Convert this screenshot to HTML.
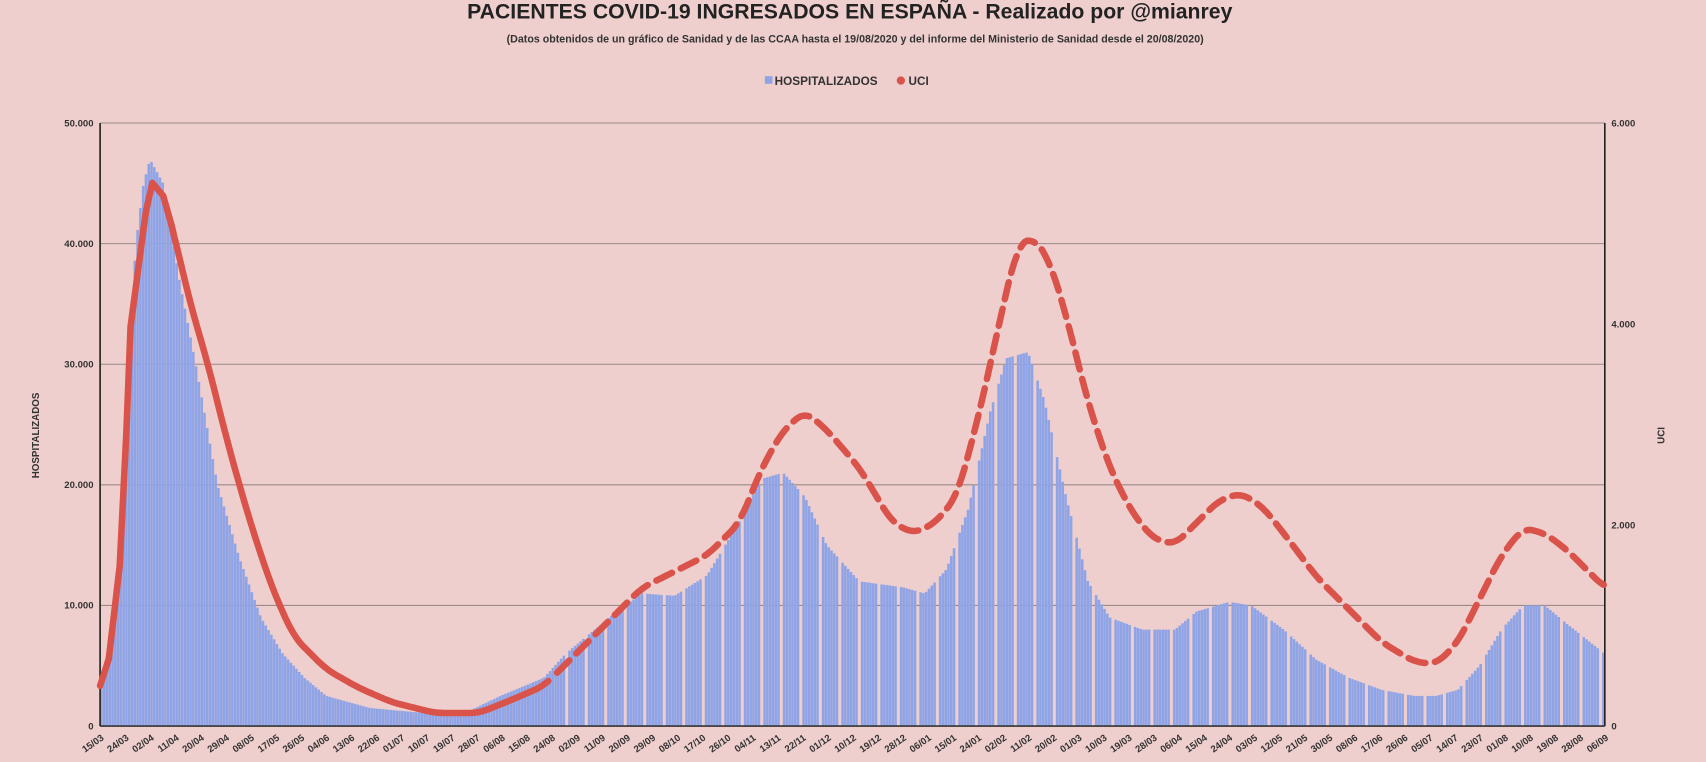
<!DOCTYPE html>
<html><head><meta charset="utf-8"><style>
html,body{margin:0;padding:0;background:#eecfcd;}
svg{display:block;font-family:"Liberation Sans",sans-serif;}
</style></head><body>
<svg id="s" width="1706" height="762" viewBox="0 0 1568 700" preserveAspectRatio="none">
<rect width="1568" height="700" fill="#eecfcd"/>
<text x="781" y="17" text-anchor="middle" font-size="19.5" font-weight="bold" fill="#222">PACIENTES COVID-19 INGRESADOS EN ESPAÑA - Realizado por @mianrey</text>
<text x="786" y="39" text-anchor="middle" font-size="9.8" font-weight="bold" fill="#333">(Datos obtenidos de un gráfico de Sanidad y de las CCAA hasta el 19/08/2020 y del informe del Ministerio de Sanidad desde el 20/08/2020)</text>
<rect x="703" y="70" width="7" height="7" fill="#8fa4e6"/>
<text x="712" y="78" font-size="10.8" font-weight="bold" fill="#333">HOSPITALIZADOS</text>
<circle cx="828" cy="74" r="3.8" fill="#d9534a"/>
<text x="835" y="78" font-size="10.8" font-weight="bold" fill="#333">UCI</text>
<text transform="translate(36,400) rotate(-90)" text-anchor="middle" font-size="9" font-weight="bold" fill="#333">HOSPITALIZADOS</text>
<text transform="translate(1530,400) rotate(-90)" text-anchor="middle" font-size="9" font-weight="bold" fill="#333">UCI</text>
<g id="g"></g>
</svg>
<script>
var g=document.getElementById('g'),h='';
var X0=92,X1=1475,Y0=667,YT=113,N=540,pd=(X1-X0)/N;
function yl(v){return Y0-(Y0-YT)*v/50000;}
for(var i=1;i<=5;i++){var y=yl(i*10000);h+='<line x1="'+X0+'" x2="'+X1+'" y1="'+y+'" y2="'+y+'" stroke="#9a8a8a" stroke-width="1"/>';
h+='<text x="'+(X0-6)+'" y="'+(y+3)+'" text-anchor="end" font-size="8.8" font-weight="bold" fill="#333">'+(i*10)+'.000</text>';}
h+='<text x="'+(X0-6)+'" y="'+(Y0+3)+'" text-anchor="end" font-size="8.8" font-weight="bold" fill="#333">0</text>';
for(var i=0;i<=6;i+=2){var y=Y0-(Y0-YT)*i/6;h+='<text x="'+(X1+6)+'" y="'+(y+3)+'" font-size="8.8" font-weight="bold" fill="#333">'+(i==0?'0':i+'.000')+'</text>';}
var H=[[92,3000],[100,5000],[110,15000],[118,30000],[125,40000],[132,45000],[138,47000],[150,45000],[165,37000],[180,30000],[200,20000],[220,14000],[240,9000],[260,6000],[280,4000],[300,2500],[340,1500],[400,1000],[430,1200],[460,2500],[500,4000],[520,6000],[560,9000],[590,11000],[620,10800],[650,12500],[680,17000],[700,20500],[720,21000],[740,19000],[760,15000],[790,12000],[830,11500],[850,11000],[870,13000],[890,18000],[910,26000],[925,30500],[945,31000],[960,27000],[980,19000],[1000,12000],[1020,9000],[1050,8000],[1080,8000],[1100,9500],[1130,10300],[1150,10000],[1180,8000],[1210,5500],[1240,4000],[1270,3000],[1300,2500],[1320,2500],[1340,3000],[1360,5000],[1380,8000],[1400,10000],[1420,10000],[1440,8500],[1475,6000]];
function interp(A,x){for(var i=1;i<A.length;i++){if(x<=A[i][0]){var a=A[i-1],b=A[i],t=(x-a[0])/(b[0]-a[0]);return a[1]+t*(b[1]-a[1]);}}return A[A.length-1][1];}
for(var d=0;d<N;d++){var x=X0+d*pd;if(d>162&&d%7==6)continue;var v=interp(H,x+pd/2),y=yl(v);
h+='<rect x="'+x.toFixed(2)+'" y="'+y.toFixed(1)+'" width="'+(pd*0.92).toFixed(2)+'" height="'+(Y0-y).toFixed(1)+'" fill="#8fa4e6"/>';}
h+='<line x1="'+X0+'" x2="'+X0+'" y1="'+YT+'" y2="'+Y0+'" stroke="#222" stroke-width="1.5"/>';
h+='<line x1="'+X1+'" x2="'+X1+'" y1="'+YT+'" y2="'+Y0+'" stroke="#222" stroke-width="1.5"/>';
h+='<line x1="'+X0+'" x2="'+X1+'" y1="'+Y0+'" y2="'+Y0+'" stroke="#333" stroke-width="1.5"/>';
var U=[[92,630],[100,605],[110,520],[116,400],[120,300],[128,240],[134,195],[140,168],[150,180],[160,215],[175,280],[190,330],[210,410],[230,480],[250,540],[270,585],[300,615],[330,632],[360,645],[400,655],[440,655],[470,643],[500,630],[530,600],[560,570],[590,540],[620,525],[650,510],[680,480],[700,430],[720,395],[740,378],[760,395],[790,430],[820,480],[840,490],[860,480],[880,455],[900,380],[920,290],[935,225],[950,218],[965,240],[980,290],[1000,370],[1020,430],[1040,470],[1060,495],[1080,500],[1100,480],[1120,460],[1140,453],[1160,465],[1180,490],[1210,530],[1240,560],[1270,590],[1300,608],[1320,610],[1340,590],[1360,550],[1380,510],[1400,485],[1420,490],[1440,505],[1475,540]];
// smooth
function sm(x){var s=0,n=0;for(var k=-8;k<=8;k+=2){s+=interp(U,Math.min(1475,Math.max(92,x+k)));n++;}return s/n;}
function path(a,b){var p='';for(var x=a;x<=b;x+=2){p+=(p?'L':'M')+x+','+(x<160?interp(U,x):sm(x)).toFixed(1);}return p;}
h+='<path d="'+path(92,504)+'" fill="none" stroke="#d9534a" stroke-width="6" stroke-linejoin="round" stroke-linecap="round"/>';
h+='<path d="'+path(512,1475)+'" fill="none" stroke="#d9534a" stroke-width="6" stroke-dasharray="16 9" stroke-linecap="round"/>';
var dt=new Date(2020,2,15);
for(var d=0;d<=N;d+=9){var t=new Date(dt.getTime()+d*86400000),s=('0'+t.getDate()).slice(-2)+'/'+('0'+(t.getMonth()+1)).slice(-2),x=X0+d*pd;
h+='<text transform="translate('+(x+4).toFixed(1)+','+(Y0+12)+') rotate(-35)" text-anchor="end" font-size="8.8" font-weight="bold" fill="#333">'+s+'</text>';}
g.innerHTML=h;
</script>
</body></html>
